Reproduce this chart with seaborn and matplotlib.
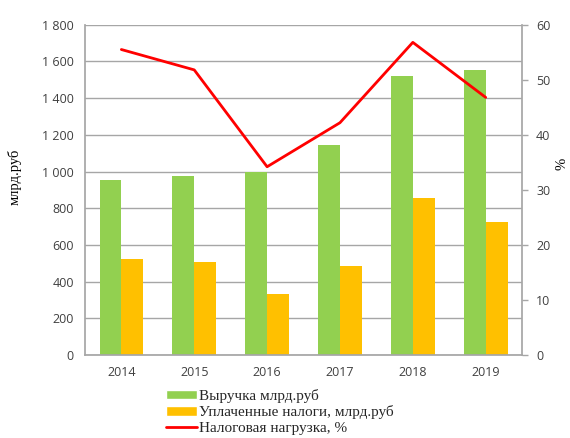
import numpy as np
import pandas as pd
import matplotlib
matplotlib.use("Agg")
import matplotlib.pyplot as plt
import seaborn as sns
from matplotlib.patches import Patch
from matplotlib.lines import Line2D
from matplotlib.ticker import FuncFormatter

years = ["2014", "2015", "2016", "2017", "2018", "2019"]
revenue = [955, 978, 996, 1142, 1522, 1555]
taxes = [524, 505, 333, 484, 857, 727]
burden = [55.5, 51.8, 34.2, 42.2, 56.8, 46.8]
rev_label = "Выручка млрд.руб"
tax_label = "Уплаченные налоги, млрд.руб"
burden_label = "Налоговая нагрузка, %"

sns.set_theme(style="white")
plt.rcParams['font.family'] = ['Open Sans', 'DejaVu Sans']

df = pd.DataFrame({
    "year": years * 2,
    "value": revenue + taxes,
    "series": [rev_label] * 6 + [tax_label] * 6,
})

fig = plt.figure(figsize=(5.7, 4.38), dpi=100)
ax = fig.add_axes([0.149, 0.1895, 0.767, 0.754])
sns.barplot(data=df, x="year", y="value", hue="series", ax=ax,
            palette=["#92D050", "#FFC000"], width=0.6, saturation=1,
            legend=False, errorbar=None, linewidth=0)
ax.set_ylim(0, 1800)
ax.set_yticks(np.arange(0, 1801, 200))
ax.yaxis.set_major_formatter(FuncFormatter(lambda v, p: f"{int(v):,}".replace(",", " ")))
ax.grid(axis="y", color="#a6a6a6", linewidth=1)
ax.set_axisbelow(True)
for s in ["top", "right"]:
    ax.spines[s].set_visible(False)
for s in ["left", "bottom"]:
    ax.spines[s].set_color("#a6a6a6")
ax.tick_params(axis="y", labelsize=9, colors="#404040", length=0, pad=8)
ax.tick_params(axis="x", labelsize=9, colors="#404040", length=0, pad=8)
ax.set_xlabel("")
ax.set_ylabel("млрд.руб", family=["Liberation Serif"], fontsize=10.5, color="black")
ax.yaxis.set_label_coords(-0.145, 0.54)

ax2 = ax.twinx()
sns.lineplot(x=np.arange(len(years)), y=burden, ax=ax2, color="#FF0000", linewidth=2)
ax2.set_ylim(0, 60)
ax2.set_yticks(np.arange(0, 61, 10))
for s in ["top", "left", "bottom"]:
    ax2.spines[s].set_visible(False)
ax2.spines["right"].set_color("#a6a6a6")
ax2.tick_params(axis="y", labelsize=9, colors="#404040", length=4, width=1, direction="out", right=True, pad=6)
ax2.tick_params(axis="y", color="#a6a6a6")
ax2.set_ylabel("%", family=["Liberation Serif"], fontsize=10.5, color="black")
ax2.yaxis.set_label_coords(1.076, 0.58)
ax.set_xlim(-0.5, 5.5)

handles = [Patch(facecolor="#92D050", label=rev_label),
           Patch(facecolor="#FFC000", label=tax_label),
           Line2D([0], [0], color="#FF0000", linewidth=2, label=burden_label)]
fig.legend(handles=handles, loc="upper left", bbox_to_anchor=(0.292, 0.112),
           frameon=False, prop={"family": "Liberation Serif", "size": 11},
           handlelength=2.0, handleheight=0.6, handletextpad=0.15, labelspacing=0.15,
           borderpad=0, borderaxespad=0)

fig.savefig("out.png", dpi=100)
